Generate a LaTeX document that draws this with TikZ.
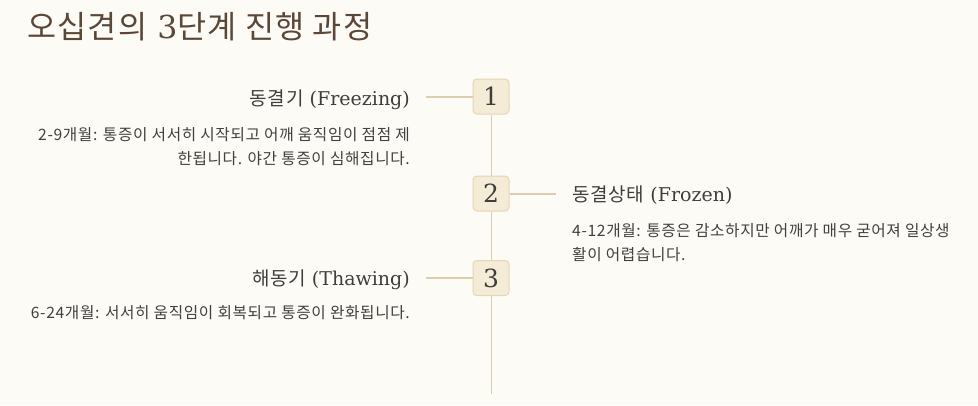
\documentclass[tikz,border=0pt]{standalone}
\usepackage{fontspec}
\setmainfont{DejaVu Serif}
\newfontfamily\kr[LetterSpace=4]{Noto Sans CJK KR}
\usepackage{xcolor}
\usetikzlibrary{positioning,calc}
\definecolor{bgcream}{HTML}{FDFBF6}
\definecolor{boxfill}{HTML}{F5ECD7}
\definecolor{boxline}{HTML}{E4D5B3}
\definecolor{linkline}{HTML}{DCCDAE}
\definecolor{titlebrown}{HTML}{5A4737}
\definecolor{inkgray}{HTML}{3E3E3E}
\definecolor{descgray}{HTML}{404040}

\begin{document}
\begin{tikzpicture}[x=1pt, y=-1pt,
    stepnum/.style={draw=boxline, fill=boxfill, line width=1pt, rounded corners=4pt, minimum width=36pt, minimum height=35pt, inner sep=0pt, text=inkgray, font=\fontsize{25}{25}\selectfont},
    stagetitle/.style={inner sep=0pt, text=inkgray, font=\fontsize{19}{19}\selectfont},
    desc/.style={inner sep=0pt, text=descgray, font={\kr\fontsize{15.7}{24}\selectfont}},
    link/.style={draw=linkline, line width=2pt, shorten >=16pt},
    spine/.style={draw=linkline, line width=0.9pt}
]
    \fill[bgcream] (0,0) rectangle (978,405);
    \path[use as bounding box] (0,0) rectangle (978,405);

    \node [anchor=base west, inner sep=0pt, text=titlebrown, font=\fontsize{31.6}{31.6}\selectfont] (title) at (27,38) {{\kr 오십견의} 3{\kr 단계 진행 과정}};

    % Step boxes
    \foreach \i/\y in {1/96.5, 2/193.5, 3/278} {
        \node [stepnum] (box\i) at (491,\y) {\i};
    }
    \coordinate (tail) at (491,394);

    % Spine
    \foreach \a/\b in {1/2, 2/3} {
        \draw [spine] (box\a.south) -- (box\b.north);
    }
    \draw [spine] (box3.south) -- (tail);

    % Left side
    \node [stagetitle, anchor=base east] (h1) at (410,105) {{\kr 동결기} (Freezing)};
    \node [desc, anchor=north east, align=right] (d1) at (410,127) {2-9개월: 통증이 서서히 시작되고 어깨 움직임이 점점 제\\한됩니다. 야간 통증이 심해집니다.};
    \node [stagetitle, anchor=base east] (h3) at (410,285) {{\kr 해동기} (Thawing)};
    \node [desc, anchor=north east, align=right] (d3) at (410,305.5) {6-24개월: 서서히 움직임이 회복되고 통증이 완화됩니다.};

    % Right side
    \node [stagetitle, anchor=base west] (h2) at (572,201) {{\kr 동결상태} (Frozen)};
    \node [desc, anchor=north west, align=left] (d2) at (572,223) {4-12개월: 통증은 감소하지만 어깨가 매우 굳어져 일상생\\활이 어렵습니다.};

    % Links
    \draw [link] (box1.west) -- (box1.west -| h1.east);
    \draw [link] (box2.east) -- (box2.east -| h2.west);
    \draw [link] (box3.west) -- (box3.west -| h3.east);
\end{tikzpicture}
\end{document}
